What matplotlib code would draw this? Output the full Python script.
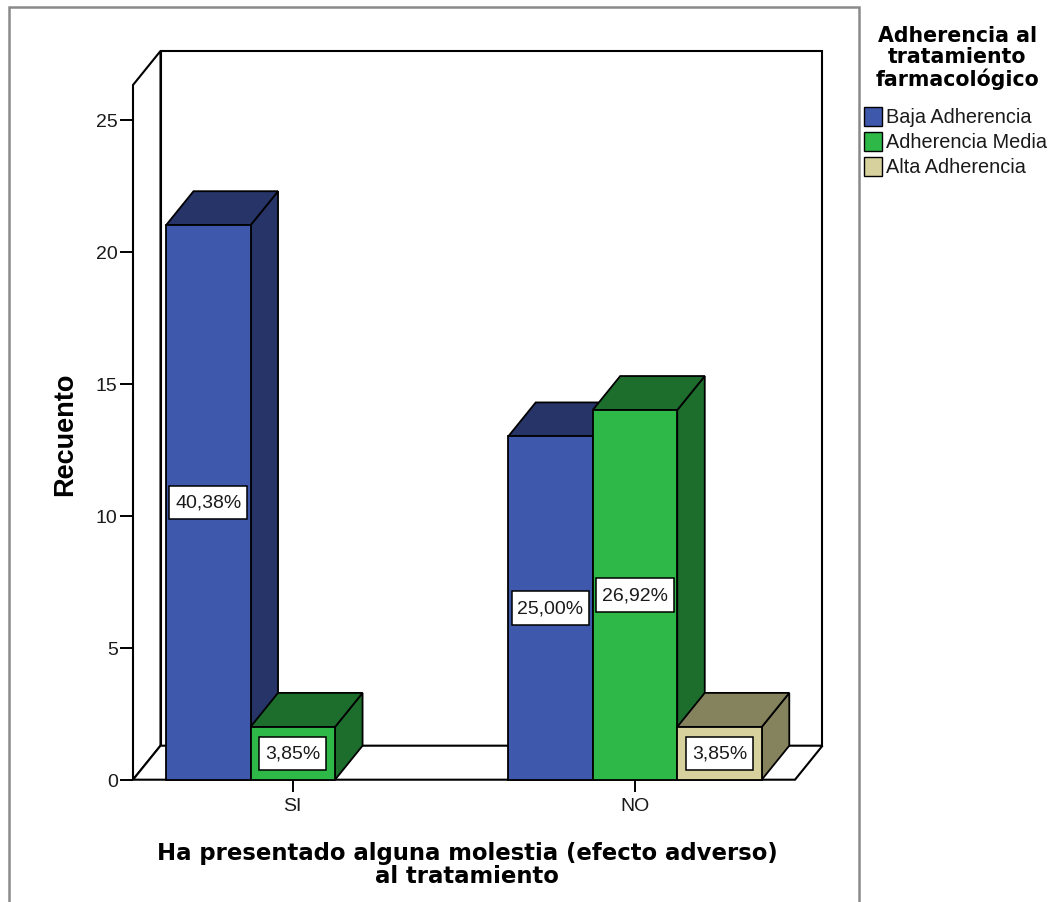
import matplotlib
matplotlib.use("Agg")
import matplotlib.pyplot as plt
from matplotlib.patches import Polygon, Rectangle
from matplotlib.path import Path

# Data: counts per response group
categories = ["SI", "NO"]
series_names = ["Baja Adherencia", "Adherencia Media", "Alta Adherencia"]
baja = [21, 13]
media = [2, 14]
alta = [0, 2]
series_values = [baja, media, alta]

front_colors = ["#3E58AC", "#2EB848", "#D6D19D"]
shade_colors = ["#263468", "#1D6E2C", "#85825E"]

total = sum(sum(v) for v in series_values)

W, H = 1053, 903
fig = plt.figure(figsize=(W / 100, H / 100), dpi=100)
fig.patch.set_facecolor("white")


def fx(px):
    return px / W


def fy(py):
    return 1 - py / H


def label_box(x0, y0, width, height, mutation_size):
    """Square box, a little taller than wide padding."""
    px = 0.30 * mutation_size
    py = 0.42 * mutation_size
    xa, ya = x0 - px, y0 - py
    xb, yb = x0 + width + px, y0 + height + py
    return Path([(xa, ya), (xb, ya), (xb, yb), (xa, yb), (xa, ya)],
                closed=True)


# Outer frame
fig.patches.append(Rectangle((fx(9), fy(915)), fx(859) - fx(9), fy(8) - fy(915),
                             transform=fig.transFigure, fill=False,
                             edgecolor="#8a8a8a", lw=1.8, zorder=0))

ax = fig.add_axes([fx(133), fy(780.7), fx(795) - fx(133), fy(86) - fy(780.7)])
ax.set_xlim(-0.467, 1.4676)
ax.set_ylim(0, 26.31)
for s in ax.spines.values():
    s.set_visible(False)
ax.patch.set_visible(False)

# depth vector (pixels) converted to data units
DX, DY = 27.5, 34.0
x0, x1 = ax.get_xlim()
y0, y1 = ax.get_ylim()
ax_w_px = (fx(795) - fx(133)) * W
ax_h_px = (fy(86) - fy(780.7)) * H
ddx = DX * (x1 - x0) / ax_w_px
ddy = DY * (y1 - y0) / ax_h_px

wall_kw = dict(facecolor="white", edgecolor="black", lw=1.5, clip_on=False,
               joinstyle="miter")

# back wall, left wall, floor
ax.add_patch(Rectangle((x0 + ddx, ddy), x1 - x0, y1, zorder=1, **wall_kw))
ax.add_patch(Polygon([(x0, 0), (x0, y1), (x0 + ddx, y1 + ddy), (x0 + ddx, ddy)],
                     closed=True, zorder=1.1, **wall_kw))
ax.add_patch(Polygon([(x0, 0), (x1, 0), (x1 + ddx, ddy), (x0 + ddx, ddy)],
                     closed=True, zorder=1.2, **wall_kw))

bw = 0.247
group_pos = [0, 1]
bar_kw = dict(edgecolor="black", lw=1.3, joinstyle="miter", clip_on=False)

order = 0
for g, gx in enumerate(group_pos):
    for s, vals in enumerate(series_values):
        h = vals[g]
        xl = gx - 1.5 * bw + s * bw
        order += 1
        if h <= 0:
            continue
        z = 3 + order * 0.1
        side = Polygon([(xl + bw, 0), (xl + bw + ddx, ddy),
                        (xl + bw + ddx, h + ddy), (xl + bw, h)],
                       closed=True, facecolor=shade_colors[s], zorder=z, **bar_kw)
        top = Polygon([(xl, h), (xl + bw, h), (xl + bw + ddx, h + ddy),
                       (xl + ddx, h + ddy)],
                      closed=True, facecolor=shade_colors[s], zorder=z, **bar_kw)
        ax.add_patch(side)
        ax.add_patch(top)
        ax.bar(xl, h, width=bw, align="edge", color=front_colors[s],
               zorder=z + 0.01, **bar_kw)
        pct = h / total * 100
        label = f"{pct:.2f}".replace(".", ",") + "%"
        ax.text(xl + bw / 2, h / 2, label, ha="center", va="center",
                fontsize=14, family="Liberation Sans", color="#1a1a1a",
                zorder=20,
                bbox=dict(boxstyle=label_box, facecolor="white",
                          edgecolor="black", lw=1.1))

# axes ticks
ax.set_yticks([0, 5, 10, 15, 20, 25])
ax.set_xticks(group_pos)
ax.set_xticklabels(categories)
ax.tick_params(axis="y", length=9.5, width=1.4, pad=1.5, labelsize=14,
               direction="out")
ax.tick_params(axis="x", length=8.8, width=1.4, pad=3.5, labelsize=14,
               direction="out")
for lab in ax.get_xticklabels() + ax.get_yticklabels():
    lab.set_family("Liberation Sans")
    lab.set_color("#1a1a1a")

# axis titles
fig.text(fx(65), fy(434), "Recuento", rotation=90, ha="center", va="center",
         fontsize=19.5, fontweight="bold", family="Liberation Sans")
fig.text(fx(467), fy(865), "Ha presentado alguna molestia (efecto adverso)\nal tratamiento",
         ha="center", va="center", fontsize=16.4, fontweight="bold",
         family="DejaVu Sans", linespacing=0.95)

# legend
fig.text(fx(957.5), fy(58), "Adherencia al\ntratamiento\nfarmacológico",
         ha="center", va="center", fontsize=14.8, fontweight="bold",
         family="DejaVu Sans", linespacing=1.06)
for i, name in enumerate(series_names):
    top_px = 108 + i * 25
    fig.patches.append(Rectangle((fx(864), fy(top_px + 19)), fx(882) - fx(864),
                                 fy(top_px) - fy(top_px + 19),
                                 transform=fig.transFigure,
                                 facecolor=front_colors[i], edgecolor="black",
                                 lw=1.0))
    fig.text(fx(886), fy(top_px + 9.5), name, ha="left", va="center",
             fontsize=14.3, family="Liberation Sans", color="#1a1a1a")

fig.savefig("out.png", dpi=100, facecolor="white")
